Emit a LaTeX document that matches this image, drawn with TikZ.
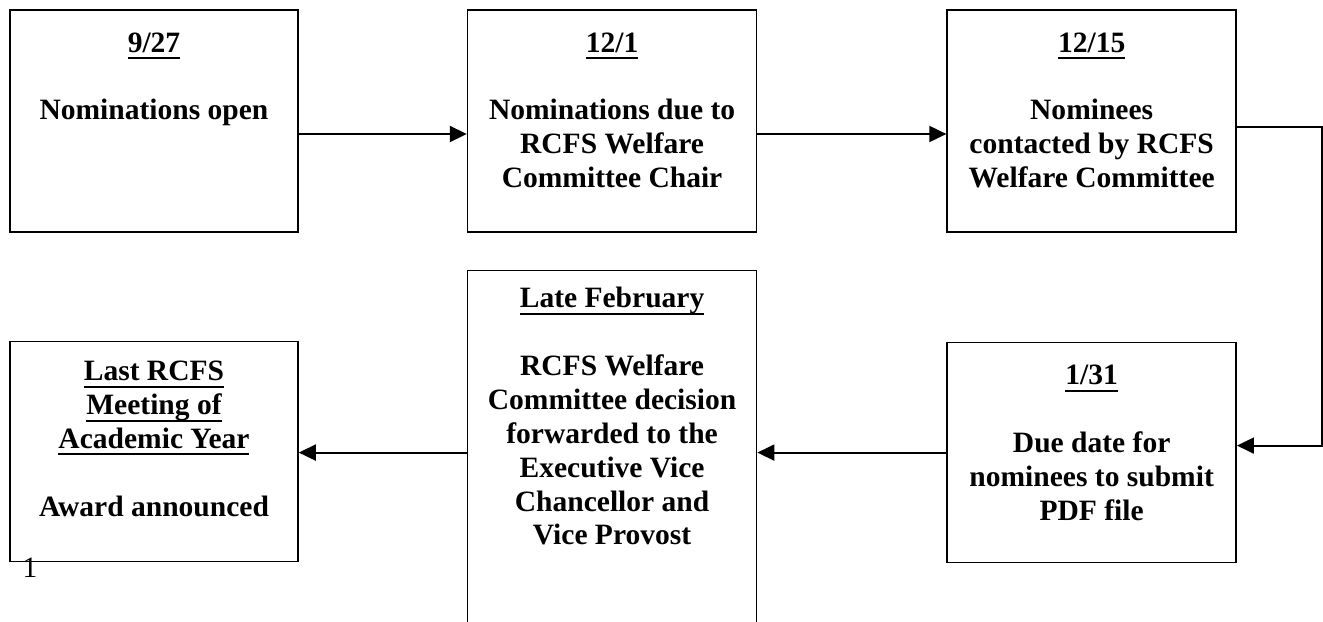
\documentclass[tikz,border=0pt]{standalone}
\usepackage{fontspec}
\setmainfont{Liberation Serif}
\usetikzlibrary{positioning,arrows.meta}

\tikzset{
  stage/.style={draw, line width=0.9pt, inner sep=0pt, font=\bfseries\fontsize{16.8}{19.3}\selectfont},
  flow/.style={-{Triangle[length=3.4mm,width=3.2mm]}, line width=1.1pt}
}
% thick underline for the dates
\newcommand{\dateul}[1]{\leavevmode\begingroup\setbox0=\hbox{#1}\rlap{\rule[-0.14cm]{\wd0}{1.1pt}}\box0\endgroup}
% box text: [top of first baseline], width, height, heading, body
\newcommand{\stagetext}[5][0.84cm]{\parbox[c][#3][t]{#2}{\centering\rule{0pt}{#1}#4\\[\baselineskip]#5}}

\begin{document}
\begin{tikzpicture}

        \useasboundingbox (0,0) rectangle (26.46,-12.44);
        \clip (0,0) rectangle (26.46,-12.44);

        % Top row
        \node[stage] (nom_open) at (3.08,-2.42) {\stagetext{5.76cm}{4.44cm}{\dateul{9/27}}{Nominations open}};
        \node[stage, right=3.36cm of nom_open] (nom_due) {\stagetext{5.78cm}{4.44cm}{\dateul{12/1}}{Nominations due to\\RCFS Welfare\\Committee Chair}};
        \node[stage, right=3.78cm of nom_due] (nom_contact) {\stagetext{5.78cm}{4.44cm}{\dateul{12/15}}{Nominees\\contacted by RCFS\\Welfare Committee}};

        % Bottom row
        \node[stage, below=2.18cm of nom_contact] (pdf_due) {\stagetext{5.78cm}{4.40cm}{\dateul{1/31}}{Due date for\\nominees to submit\\PDF file}};
        \node[stage, below=0.74cm of nom_due] (late_feb) {\stagetext[0.74cm]{5.78cm}{7.82cm}{\dateul{Late February}}{RCFS Welfare\\Committee decision\\forwarded to the\\Executive Vice\\Chancellor and\\Vice Provost}};
        \node[stage, below=2.16cm of nom_open] (last_meeting) {\stagetext[0.78cm]{5.76cm}{4.40cm}{\dateul{Last RCFS}\\\dateul{Meeting of}\\\dateul{Academic Year}}{Award announced}};

        % Page number
        \node[font=\fontsize{16.8}{19.3}\selectfont, anchor=base, inner sep=0pt] (page_num) at (0.6,-11.54) {1};

        % Draw connections
        \draw[flow] ([yshift=-2.6mm]nom_open.east) -- ([yshift=-2.6mm]nom_due.west);
        \draw[flow] ([yshift=-2.6mm]nom_due.east) -- ([yshift=-2.6mm]nom_contact.west);
        \draw[flow] ([yshift=-1.2mm]nom_contact.east) -- ++(1.70,0) coordinate (turn) |- ([yshift=1.4mm]pdf_due.east);
        \draw[flow] (pdf_due.west) -- (pdf_due.west -| late_feb.east);
        \draw[flow] (pdf_due.west -| late_feb.west) -- (pdf_due.west -| last_meeting.east);

    \end{tikzpicture}
\end{document}
